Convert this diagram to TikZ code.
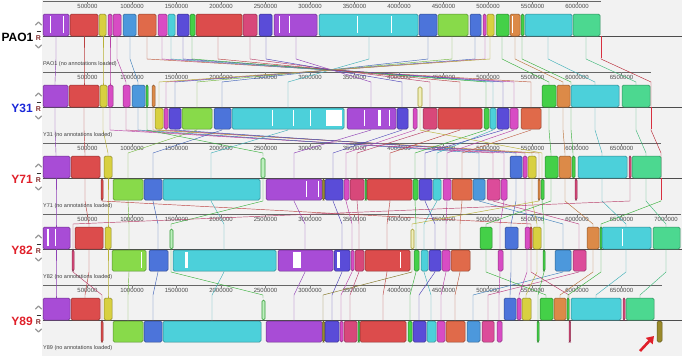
\documentclass[tikz,border=0pt]{standalone}
\usepackage{fontspec}
\setmainfont{Liberation Sans}
\usetikzlibrary{arrows.meta}
\definecolor{pur}{HTML}{A84CD6}
\definecolor{red}{HTML}{DC4C4C}
\definecolor{yel}{HTML}{D8D040}
\definecolor{pnk}{HTML}{D84CC4}
\definecolor{lbl}{HTML}{4C98DC}
\definecolor{ore}{HTML}{E06A4A}
\definecolor{cyn}{HTML}{4CD0DA}
\definecolor{ind}{HTML}{5A4CD8}
\definecolor{grn}{HTML}{44D048}
\definecolor{crm}{HTML}{D8487A}
\definecolor{lim}{HTML}{88DA4A}
\definecolor{rbl}{HTML}{4C74DA}
\definecolor{mnt}{HTML}{4CD890}
\definecolor{org}{HTML}{DC8A48}
\definecolor{brn}{HTML}{9A8A2A}
\definecolor{crp}{HTML}{DC4C9A}
\definecolor{bgc}{HTML}{F2F2F2}
\definecolor{rname}{HTML}{E0202A}
\definecolor{bname}{HTML}{1A28D8}
\definecolor{endred}{HTML}{D83040}
\begin{document}
\begin{tikzpicture}[x=1pt,y=-1pt,
  blk/.style={rounded corners=1.5pt,line width=0.5pt},
  oblk/.style={rounded corners=1.5pt,line width=0.6pt},
  cline/.style={line width=0.45pt},
  rl/.style={font=\fontsize{6}{7}\selectfont,text=black!70,inner sep=0pt},
  ptxt/.style={font=\fontsize{5.5}{6}\selectfont,text=black!75,inner sep=0pt,anchor=west},
  gname/.style={font=\fontsize{12}{13}\selectfont\bfseries,inner sep=0pt,anchor=east},
  chev/.style={line width=1.1pt,draw=black!40,line cap=round,line join=round}]
\useasboundingbox (0,0) rectangle (685,356);
\fill[bgc] (42,-1) rectangle (682,356);
% rulers
\foreach \p/\E/\M in {0/601/12,1/651/13,2/661/13,3/681/14,4/662/13}{
  \draw[black!60,line width=0.7pt] (43,{71*\p+1}) -- (\E,{71*\p+1});
  \foreach \i in {1,...,\M}{
    \pgfmathsetmacro{\xx}{43+44.5*\i}
    \pgfmathtruncatemacro{\vv}{5*\i}
    \draw[black!50,line width=0.4pt] (\xx,{71*\p+1}) -- (\xx,{71*\p+4});
    \node[rl] at (\xx,{71*\p+6.5}) {\vv00000};
  }
  \draw[black!70,line width=0.6pt] (43,{71*\p+36}) -- (682,{71*\p+36});
}
% connectors
\foreach \k/\xs/\rs/\xt/\rt/\c in {
0/56/0/55/0/pur,0/84/0/84/0/red,0/103/0/103/0/yel,0/110/0/110/0/pnk,0/117/0/126/0/pnk,0/130/0/138/0/lbl,
0/147/0/531/1/ore,0/162/0/514/1/pnk,0/171/0/493/1/cyn,0/183/0/503/1/ind,0/192/0/486/1/grn,0/218/0/460/1/red,
0/250/0/430/1/crm,0/266/0/402/1/ind,0/296/0/371/1/pur,0/369/0/288/1/cyn,0/428/0/222/1/rbl,0/452/0/197/1/lim,
0/475/0/175/1/rbl,0/485/0/166/1/pnk,0/490/0/159/1/yel,0/502/0/549/0/grn,0/515/0/563/0/org,0/522/0/571/0/grn,
0/548/0/595/0/cyn,0/586/0/636/0/mnt,0/601/1/651/1/endred,
1/55/0/56/0/pur,1/84/0/85/0/red,1/103/0/108/0/yel,1/110/0/504/1/pnk,1/126/0/493/1/crp,1/138/0/479/1/lbl,
1/147/0/263/0/grn,1/153/0/539/1/org,1/159/1/532/0/yel,1/166/1/525/0/pnk,1/175/1/516/0/rbl,1/197/1/128/1/lim,
1/222/1/153/1/rbl,1/288/1/211/1/cyn,1/371/1/294/1/pur,1/402/1/333/1/ind,1/415/1/346/1/pnk,1/430/1/357/1/crm,
1/460/1/390/1/red,1/486/1/415/1/grn,1/493/1/437/1/cyn,1/503/1/425/1/ind,1/514/1/447/1/pnk,1/531/1/462/1/ore,
1/549/0/551/0/grn,1/563/0/565/0/org,1/571/0/573/0/grn,1/595/0/602/0/cyn,1/636/0/646/0/mnt,1/651/1/661/1/endred,
1/420/0/542/1/yel,
2/56/0/56/0/pur,2/85/0/89/0/red,2/108/0/108/0/yel,2/102/1/531/0/red,2/128/1/129/1/lim,2/153/1/158/1/rbl,
2/211/1/224/1/cyn,2/263/0/171/0/grn,2/294/1/305/1/pur,2/333/1/342/1/ind,2/346/1/352/1/pnk,2/357/1/359/1/crm,
2/390/1/387/1/red,2/415/1/416/1/grn,2/425/1/435/1/ind,2/437/1/424/1/cyn,2/447/1/446/1/pnk,2/462/1/460/1/ore,
2/479/1/563/1/lbl,2/493/1/579/1/crp,2/504/1/500/1/pnk,2/516/0/511/0/rbl,2/525/0/527/0/pnk,2/532/0/537/0/yel,
2/551/0/486/0/grn,2/565/0/593/0/org,2/602/0/626/0/cyn,2/646/0/666/0/mnt,2/630/0/73/1/crm,2/542/1/544/1/grn,
2/539/1/412/0/yel,2/661/1/601/0/grn,
3/56/0/56/0/pur,3/89/0/85/0/red,3/108/0/108/0/yel,3/73/1/102/1/crm,3/129/1/128/1/lim,3/158/1/153/1/rbl,
3/224/1/212/1/cyn,3/171/0/263/0/grn,3/305/1/294/1/pur,3/342/1/332/1/ind,3/352/1/341/1/pnk,3/359/1/350/1/crm,
3/387/1/383/1/red,3/416/1/410/1/grn,3/424/1/431/1/cyn,3/435/1/419/1/ind,3/446/1/441/1/pnk,3/460/1/455/1/ore,
3/500/1/499/1/pnk,3/563/1/473/1/lbl,3/579/1/488/1/crp,3/486/0/546/0/grn,3/511/0/510/0/rbl,3/527/0/519/0/pnk,
3/537/0/526/0/yel,3/593/0/560/0/org,3/626/0/596/0/cyn,3/666/0/640/0/mnt,3/544/1/538/1/grn,3/412/0/323/1/brn,
3/531/0/569/1/crm,3/601/0/568/0/grn}{
  \draw[cline,draw=\c!85!black] (\xs,{71*\k+36+22*\rs}) -- (\xs,{71*\k+59}) -- (\xt,{71*\k+82}) -- (\xt,{71*\k+85+23*\rt});
}
% blocks
\foreach \p/\a/\b/\r/\c in {
0/43/69/0/pur,0/70/98/0/red,0/99/106/0/yel,0/108/112/0/pnk,0/113/121/0/pnk,0/123/136/0/lbl,0/138/156/0/ore,
0/158/167/0/pnk,0/168/175/0/cyn,0/177/189/0/ind,0/190/195/0/grn,0/196/242/0/red,0/243/257/0/crm,0/259/272/0/ind,
0/274/317/0/pur,0/319/418/0/cyn,0/419/437/0/rbl,0/438/468/0/lim,0/470/481/0/rbl,0/483/486/0/pnk,0/487/494/0/yel,
0/496/509/0/grn,0/510/520/0/org,0/521/524/0/grn,0/525/572/0/cyn,0/573/600/0/mnt,
1/43/68/0/pur,1/69/99/0/red,1/100/107/0/yel,1/108/113/0/pnk,1/123/130/0/pnk,1/132/145/0/lbl,1/146/148/0/grn,
1/152/155/0/org,1/542/556/0/grn,1/557/570/0/org,1/571/619/0/cyn,1/622/650/0/mnt,
1/155/163/1/yel,1/164/168/1/pnk,1/169/181/1/ind,1/182/212/1/lim,1/214/231/1/rbl,1/232/344/1/cyn,1/347/396/1/pur,
1/397/408/1/ind,1/413/417/1/pnk,1/423/437/1/crm,1/438/482/1/red,1/484/489/1/grn,1/490/496/1/cyn,1/497/509/1/ind,
1/510/518/1/pnk,1/521/541/1/ore,
2/43/70/0/pur,2/71/100/0/red,2/104/112/0/yel,2/510/522/0/rbl,2/523/527/0/pnk,2/528/536/0/yel,2/545/558/0/grn,
2/559/571/0/org,2/572/575/0/grn,2/578/627/0/cyn,2/629/631/0/crm,2/632/661/0/mnt,
2/101/103/1/red,2/113/143/1/lim,2/144/162/1/rbl,2/163/260/1/cyn,2/266/322/1/pur,2/322.5/324.5/1/brn,2/325/343/1/ind,
2/344/349/1/pnk,2/350/364/1/crm,2/365/366.5/1/grn,2/367/412/1/red,2/413/418/1/grn,2/419/432/1/ind,2/433/441/1/cyn,
2/443/451/1/pnk,2/452/472/1/ore,2/473/485/1/lbl,2/487/500/1/crp,2/501/507/1/pnk,2/538/540/1/org,2/541/544/1/grn,
2/575/577/1/crm,
3/43/70/0/pur,3/75/103/0/red,3/105/111/0/yel,3/480/492/0/grn,3/505/518/0/rbl,3/525/530/0/pnk,3/530/532/0/red,
3/533/541/0/yel,3/587/599/0/org,3/600/602/0/grn,3/602/651/0/cyn,3/653/680/0/mnt,
3/72/74/1/crm,3/112/146/1/lim,3/149/168/1/rbl,3/173/276/1/cyn,3/278/333/1/pur,3/334/350/1/ind,3/351/354/1/pnk,
3/355/364/1/crm,3/365/410/1/red,3/414/419/1/grn,3/421/428/1/cyn,3/429/441/1/ind,3/442/450/1/pnk,3/451/470/1/ore,
3/498/503/1/pnk,3/543/545/1/grn,3/555/571/1/lbl,3/573/586/1/crp,
4/43/70/0/pur,4/71/100/0/red,4/104/112/0/yel,4/504/516/0/rbl,4/517/521/0/pnk,4/522/531/0/yel,4/540/553/0/grn,
4/554/566/0/org,4/567/569/0/grn,4/571/621/0/cyn,4/623/625/0/crm,4/626/654/0/mnt,
4/101/103/1/red,4/113/143/1/lim,4/144/162/1/rbl,4/163/261/1/cyn,4/266/322/1/pur,4/322.5/324.5/1/brn,4/325/339/1/ind,
4/340/343/1/pnk,4/344/357/1/crm,4/358/359.5/1/grn,4/360/406/1/red,4/408/412/1/grn,4/413/426/1/ind,4/427/436/1/cyn,
4/437/445/1/pnk,4/446/465/1/ore,4/467/480/1/lbl,4/482/494/1/crp,4/497/502/1/pnk,4/537/539/1/grn,4/569/570.5/1/crm,
4/657/662/1/brn}{
  \draw[blk,fill=\c,draw=\c!65!black] (\a,{71*\p+14+23*\r}) rectangle (\b,{71*\p+36+22*\r});
}
% outlined (weak) blocks
\foreach \p/\a/\b/\r/\c in {1/418/422/0/yel,2/261/265/0/grn,3/170/173/0/grn,3/411/414/0/yel,4/262/265/0/grn}{
  \draw[oblk,fill=\c!35!white,draw=\c!75!black] (\a,{71*\p+16+23*\r}) rectangle (\b,{71*\p+36+22*\r});
}
% tiny end blocks
\foreach \p/\x in {0/601,1/651,2/661}{
  \draw[endred,line width=0.8pt] (\x,{71*\p+36}) -- (\x,{71*\p+58});
}
% white similarity gaps
\foreach \p/\x/\r/\w in {0/50/0/0.8,0/63/0/0.8,0/279/0/1,0/289/0/1,0/357/0/0.8,0/391/0/1,0/512/0/0.6,
1/272/1/0.8,1/293/1/0.8,1/326/1/16,1/364/1/1,1/378/1/3,1/389/1/1,1/310/1/0.6,
2/306/1/0.6,2/318/1/0.6,3/47/0/2,3/55/0/0.8,3/185/1/3,3/293/1/8,3/337/1/3,3/400/1/0.7,3/622/0/0.7,3/141/1/1}{
  \fill[white] (\x,{71*\p+15.5+23*\r}) rectangle ({\x+\w},{71*\p+33+22*\r});
}
% panel captions
\node[ptxt] at (43,64) {PAO1 (no annotations loaded)};
\node[ptxt] at (43,135) {Y31 (no annotations loaded)};
\node[ptxt] at (43,206) {Y71 (no annotations loaded)};
\node[ptxt] at (43,277) {Y82 (no annotations loaded)};
\node[ptxt] at (43,348) {Y89 (no annotations loaded)};
% genome names
\node[gname,text=black] (n0) at (33.5,37) {PAO1};
\node[gname,text=bname] (n1) at (33,108) {Y31};
\node[gname,text=rname] (n2) at (33,179) {Y71};
\node[gname,text=rname] (n3) at (33,250) {Y82};
\node[gname,text=rname] (n4) at (33,321) {Y89};
% side controls
\foreach \p in {0,...,4}{
  \draw[chev] (35.5,{71*\p+25}) -- (38.5,{71*\p+22}) -- (41.5,{71*\p+25});
  \draw[black!80,line width=0.7pt] (36.5,{71*\p+31}) -- (40.5,{71*\p+31});
  \node[font=\fontsize{7}{7}\selectfont\bfseries,text=red!60!black,inner sep=0pt] at (38.5,{71*\p+38.5}) {R};
  \draw[chev] (35.5,{71*\p+45}) -- (38.5,{71*\p+48}) -- (41.5,{71*\p+45});
}
% red arrow
\coordinate (atail) at (640,351);
\coordinate (ahead) at (654,336);
\draw[rname,line width=2.6pt,-{Triangle[length=7pt,width=9pt]}] (atail) -- (ahead);
\end{tikzpicture}
\end{document}
